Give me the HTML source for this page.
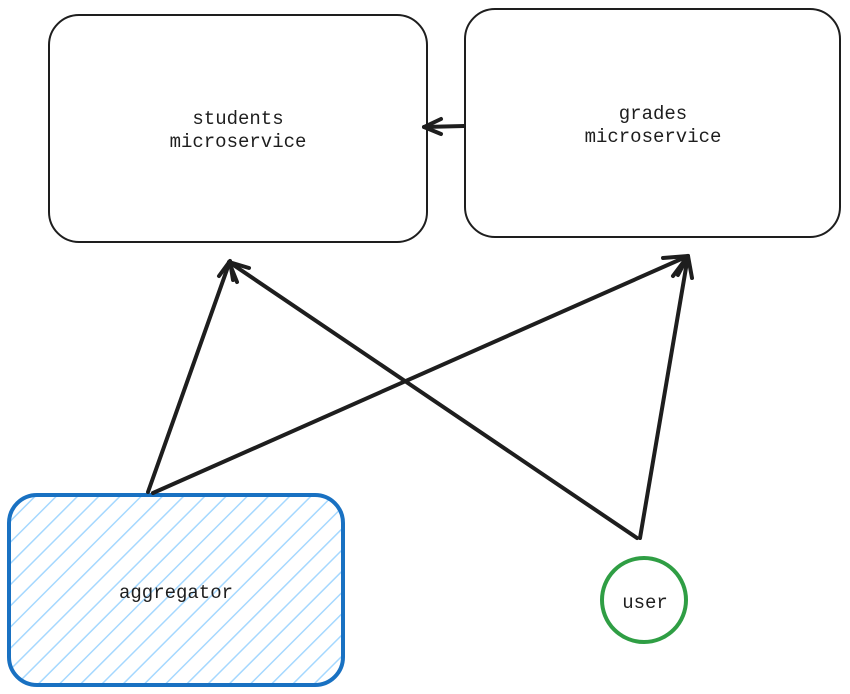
<!DOCTYPE html>
<html><head><meta charset="utf-8"><style>
html,body{margin:0;padding:0;background:#fff;}
svg{display:block;}
text{font-family:"Liberation Mono","DejaVu Sans Mono",monospace;font-size:19px;fill:#1e1e1e;}
</style></head><body>
<svg width="850" height="694" viewBox="0 0 850 694" xmlns="http://www.w3.org/2000/svg">
<defs>
<pattern id="h" patternUnits="userSpaceOnUse" width="15" height="15" patternTransform="rotate(45)">
<line x1="0" y1="0" x2="0" y2="15" stroke="#a5d8ff" stroke-width="3"/>
</pattern>
<clipPath id="c"><rect x="9" y="495" width="334" height="190" rx="28"/></clipPath>
</defs>
<rect x="49" y="15" width="378" height="227" rx="30" fill="none" stroke="#1e1e1e" stroke-width="2"/>
<rect x="465" y="9" width="375" height="228" rx="30" fill="none" stroke="#1e1e1e" stroke-width="2"/>
<text x="238" y="124" text-anchor="middle">students</text>
<text x="238" y="147" text-anchor="middle">microservice</text>
<text x="653" y="119" text-anchor="middle">grades</text>
<text x="653" y="142" text-anchor="middle">microservice</text>
<rect x="9" y="495" width="334" height="190" fill="url(#h)" clip-path="url(#c)"/>
<rect x="9" y="495" width="334" height="190" rx="28" fill="none" stroke="#1971c2" stroke-width="4"/>
<text x="176" y="598" text-anchor="middle">aggregator</text>
<circle cx="644" cy="600" r="42" fill="none" stroke="#2f9e44" stroke-width="4"/>
<text x="645" y="608" text-anchor="middle">user</text>
<g stroke="#1e1e1e" stroke-width="4" fill="none" stroke-linecap="round" stroke-linejoin="round">
<line x1="464" y1="126" x2="424" y2="127"/>
<polyline points="441,119 424,127 441,134"/>
<line x1="148" y1="492" x2="230" y2="261"/>
<polyline points="219,276 230,261 233,280"/>
<line x1="153" y1="493" x2="688" y2="256"/>
<polyline points="663,258 688,256 673,276"/>
<line x1="637" y1="538" x2="229" y2="262"/>
<polyline points="249,268 229,262 237,282"/>
<line x1="640" y1="538" x2="688" y2="256"/>
<polyline points="678,275 688,256 692,278"/>
</g>
</svg>
</body></html>
